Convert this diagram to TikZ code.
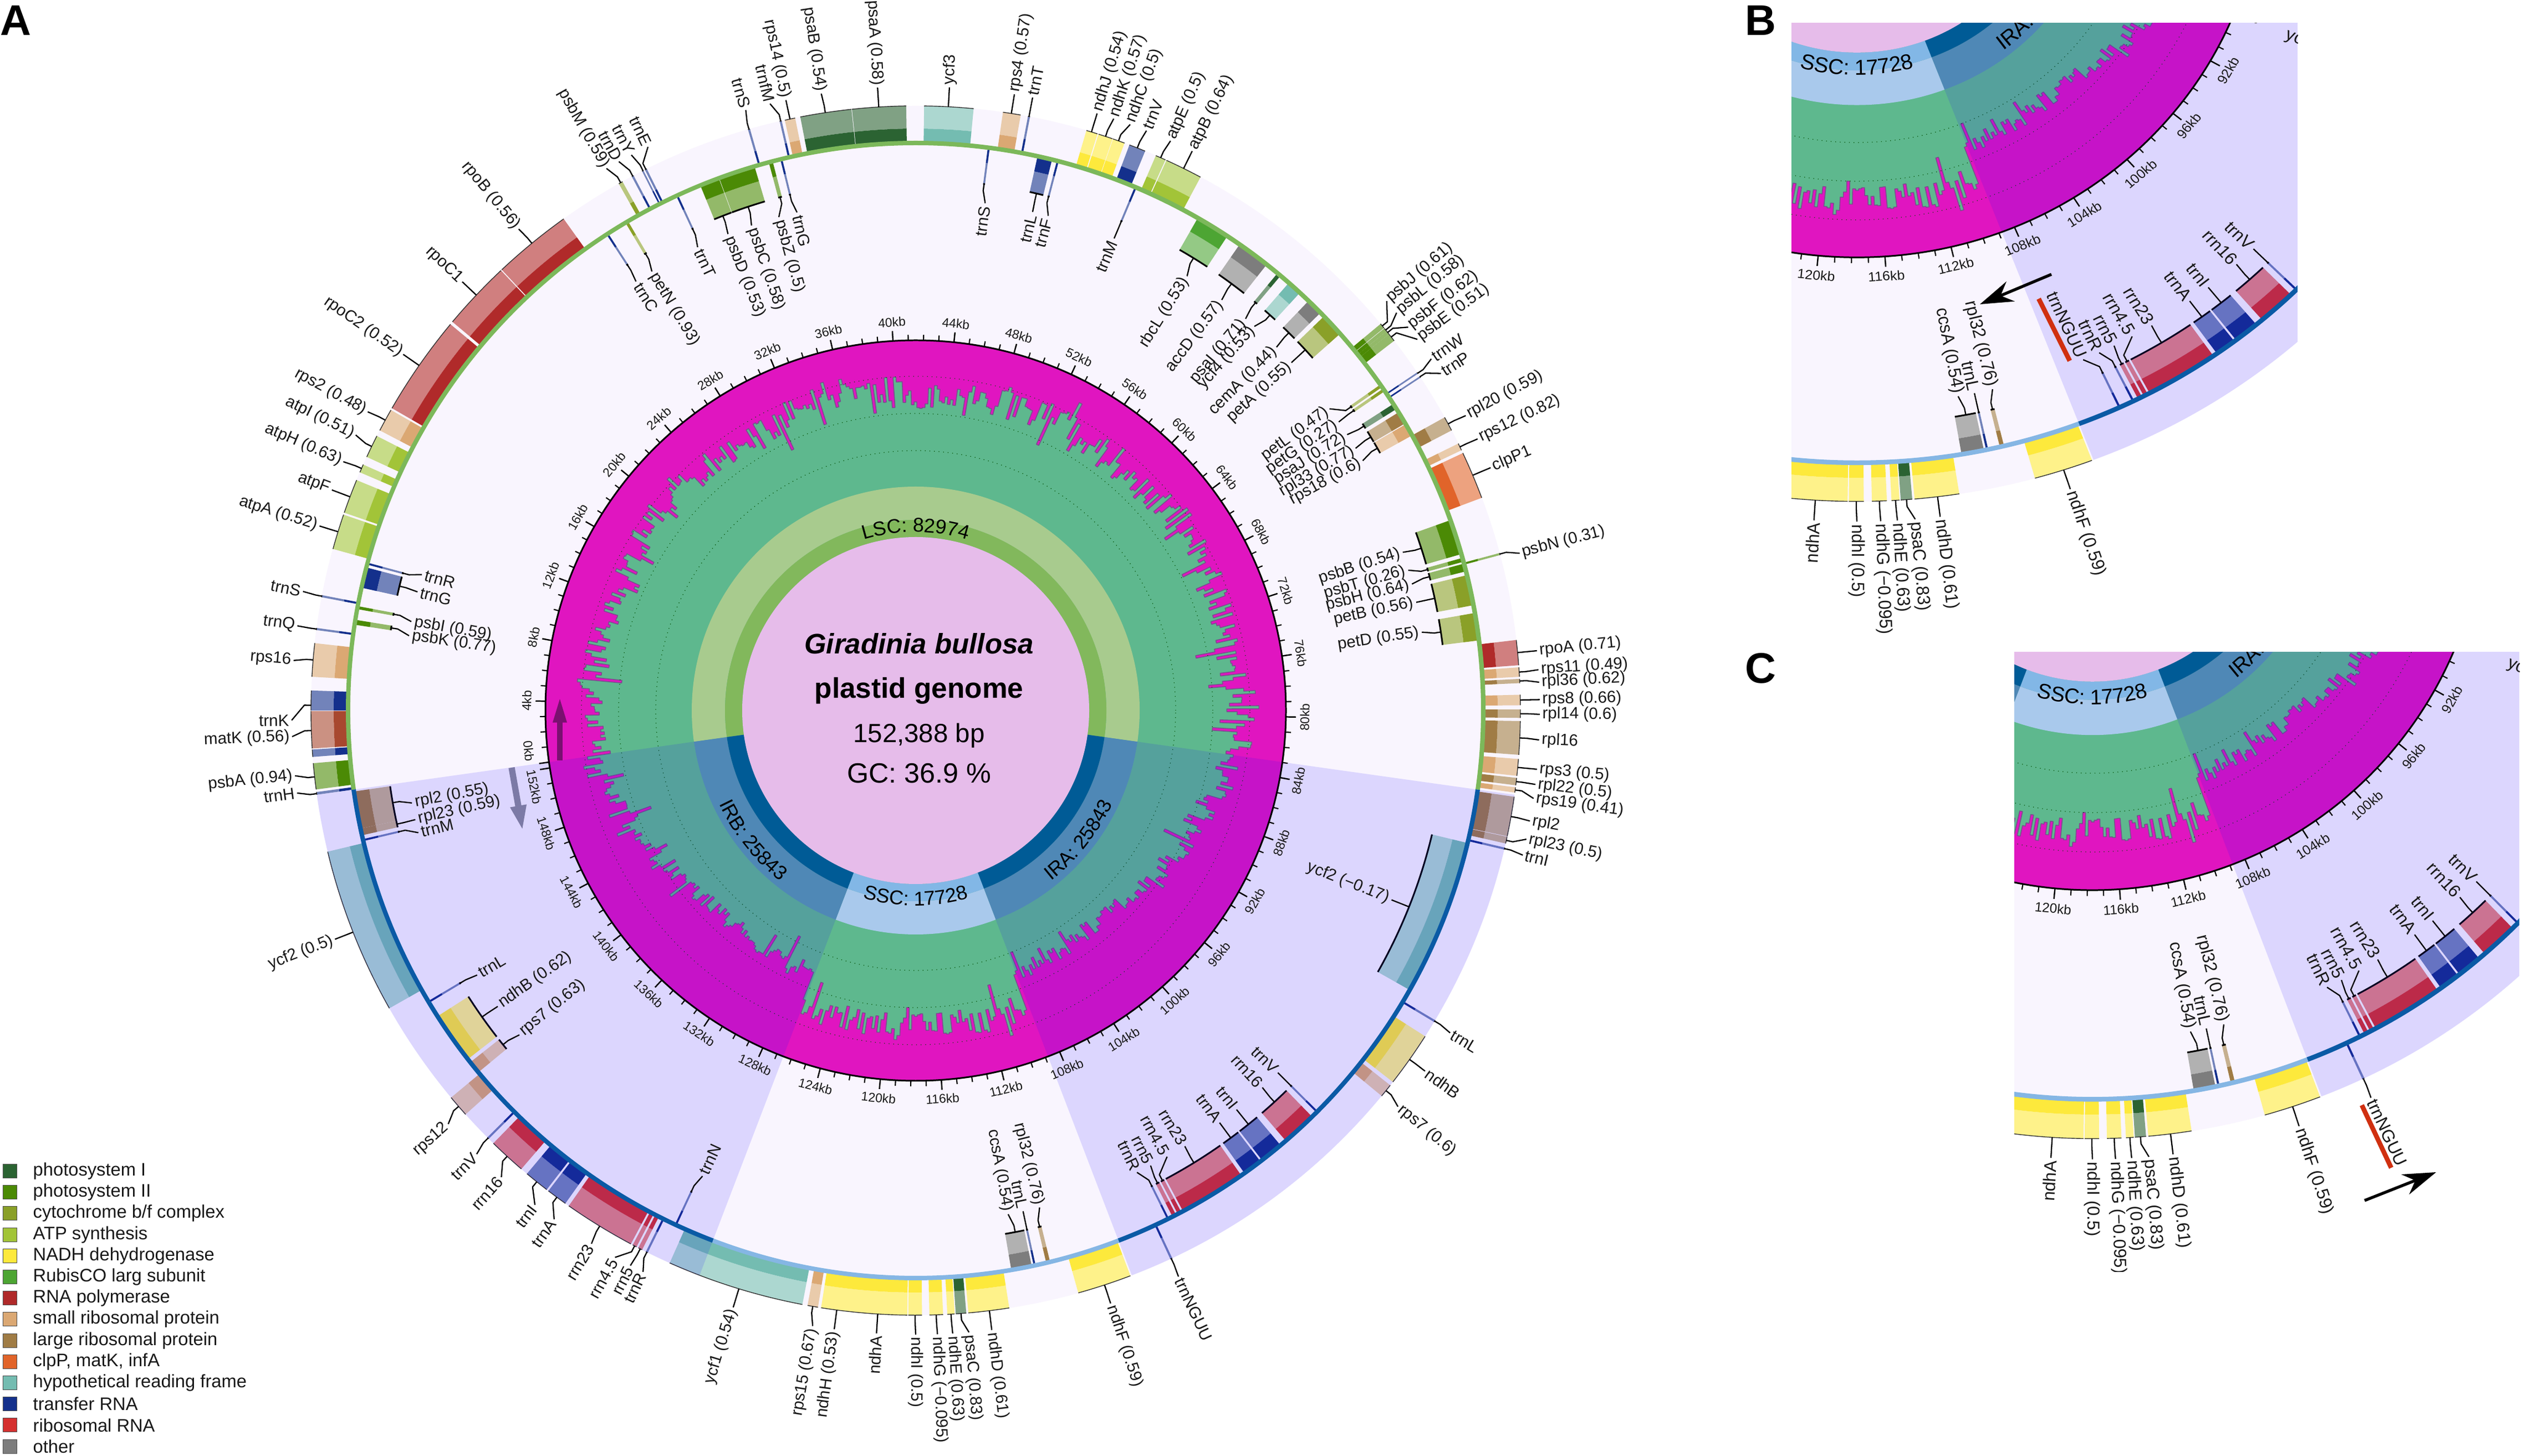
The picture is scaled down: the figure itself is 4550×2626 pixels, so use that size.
\documentclass[tikz,border=0pt]{standalone}
\usepackage{fontspec}
\setmainfont{Liberation Sans}
\usetikzlibrary{arrows.meta,decorations.text}
\def\U{0.01cm}
\def\bandfs{10.2}
\definecolor{psI}{HTML}{2B6332}\definecolor{psII}{HTML}{4B8A05}\definecolor{cyt}{HTML}{8AA028}
\definecolor{atp}{HTML}{A2C438}\definecolor{ndh}{HTML}{FDE93C}\definecolor{rbc}{HTML}{4DA533}
\definecolor{pol}{HTML}{B02A2A}\definecolor{srp}{HTML}{DBA873}\definecolor{lrp}{HTML}{A07C45}
\definecolor{clp}{HTML}{E1642A}\definecolor{hyp}{HTML}{74BCB1}\definecolor{trn}{HTML}{14308C}
\definecolor{rrn}{HTML}{D5302F}\definecolor{oth}{HTML}{7D7D7D}\definecolor{mat}{HTML}{A8482F}
\definecolor{pale}{HTML}{F9F5FE}\definecolor{mag}{HTML}{E015C0}\definecolor{gcg}{HTML}{5EB88E}
\definecolor{irov}{HTML}{1A08FF}\definecolor{histl}{HTML}{7B4F8E}
\definecolor{lscd}{HTML}{82B85C}\definecolor{lscl}{HTML}{A8CB8E}
\definecolor{ird}{HTML}{005B96}\definecolor{irl}{HTML}{4F88B6}
\definecolor{sscd}{HTML}{82B7E6}\definecolor{sscl}{HTML}{A9C9EC}
\definecolor{core}{HTML}{E6BCEA}\definecolor{bbl}{HTML}{7CB85A}\definecolor{bbi}{HTML}{0A5AA5}\definecolor{bbs}{HTML}{85B6E4}
\definecolor{redbar}{HTML}{D03010}\definecolor{arrA}{HTML}{7A1070}\definecolor{arrB}{HTML}{7C7AA6}
\tikzset{
  glab/.style={font=\fontsize{8.4}{10}\selectfont,inner sep=0pt,text=black!90},
  ticklab/.style={font=\fontsize{6.5}{8}\selectfont,inner sep=0pt,text=black!90},
  leader/.style={draw=black,line width=0.65pt,line join=round},
  rimo/.style={draw=black!80,line width=0.4pt},
  rimi/.style={draw=black,line width=0.85pt},
  legtext/.style={font=\fontsize{9.3}{11}\selectfont,inner sep=0pt,anchor=west,text=black!90},
  legbox/.style={draw=black!70,line width=0.3pt,minimum size=25*\U,inner sep=0pt},
  panelletter/.style={font=\bfseries\fontsize{22}{24}\selectfont,inner sep=0pt},
  bandtxt/.style={decorate,decoration={text along path,text align=center,text={#1}}},
}
% annular sector
\newcommand\gsec[4]{(#1:#3) arc[start angle=#1,end angle=#2,radius=#3*\U] -- (#2:#4) arc[start angle=#2,end angle=#1,radius=#4*\U] -- cycle}
% outer gene
\newcommand\gO[3]{\fill[#3!60!white] \gsec{#1}{#2}{1050}{1091};\fill[#3] \gsec{#1}{#2}{1024}{1050};\draw[rimo] (#1:1091) arc[start angle=#1,end angle=#2,radius=1091*\U];}
% inner gene
\newcommand\gI[3]{\fill[#3!60!white] \gsec{#1}{#2}{958}{996};\fill[#3] \gsec{#1}{#2}{996}{1024};\draw[rimi] (#1:958) arc[start angle=#1,end angle=#2,radius=958*\U];}
% outer label: gene angle, label angle, text
\newcommand\lO[3]{\draw[leader] (#1:1091) -- (#1:1103) -- (#2:1126);
  \pgfmathtruncatemacro\rgt{cos(#2)>=0?1:0}%
  \ifnum\rgt=1 \node[glab,anchor=west,rotate=#2] at (#2:1130) {#3};\else \node[glab,anchor=east,rotate=#2-180] at (#2:1130) {#3};\fi}
% inner label
\newcommand\lI[3]{\draw[leader] (#1:958) -- (#1:946) -- (#2:924);
  \pgfmathtruncatemacro\rgt{cos(#2)>=0?1:0}%
  \ifnum\rgt=1 \node[glab,anchor=east,rotate=#2] at (#2:919) {#3};\else \node[glab,anchor=west,rotate=#2-180] at (#2:919) {#3};\fi}
% GC histogram outline
\pgfmathsetseed{11}
\gdef\hp{(188.01:590)}
\foreach \i in {0,...,699}{%
  \pgfmathsetmacro\hkb{\i*0.2177}%
  \pgfmathsetmacro\hta{188.01-\i*0.5142857}%
  \pgfmathsetmacro\htb{\hta-0.5142857}%
  \pgfmathsetmacro\hba{\hkb<82.974 ? 580+10*sin(\hkb*23) : (\hkb<108.817 ? 585-78*min((\hkb-82.974)/15,1) : (\hkb<126.545 ? 572 : 585-78*min((152.388-\hkb)/15,1)))}%
  \pgfmathsetmacro\ham{\hkb<82.974 ? 26 : (\hkb<108.817 ? 15 : (\hkb<126.545 ? 26 : 15))}%
  \pgfmathsetmacro\hsa{rnd>0.86 ? -rnd*40 : 0}%
  \pgfmathsetmacro\hsb{rnd>0.93 ? rnd*35 : 0}%
  \pgfmathsetmacro\hr{\hba+\ham*(2*rnd-1)+\hsa+\hsb}%
  \xdef\hp{\hp -- (\hta:\hr) -- (\htb:\hr)}%
}
\newif\ifpanelB
\newcommand\genome{%
  \fill[pale] (0,0) circle[radius=1091*\U];
  \fill[mag] (0,0) circle[radius=668*\U];
  \draw[histl,fill=gcg,line width=0.45pt,line join=round] \hp -- cycle;
  \foreach \rr in {469,536,603}{\draw[black!70!green,line width=0.35pt,dotted] (0,0) circle[radius=\rr*\U];}
  % ---- outer genes
  \gO{185.0}{187.5}{psII}\gO{187.75}{188.0}{trn}\gO{183.7}{184.4}{trn}\gO{180.05}{183.6}{mat}\gO{178.1}{180}{trn}
  \gO{173.6}{176.8}{srp}\gO{172.15}{172.35}{trn}\gO{169}{169.2}{trn}
  \gO{161.1}{164.5}{atp}\gO{157.6}{160.9}{atp}\gO{156}{156.8}{atp}\gO{153}{155.2}{atp}\gO{150.2}{152.4}{srp}
  \gO{140.3}{150}{pol}\gO{133.3}{140}{pol}\gO{125.6}{133.2}{pol}
  \gO{119}{119.4}{cyt}\gO{117.8}{118}{trn}\gO{116.75}{116.9}{trn}\gO{116.4}{116.6}{trn}
  \gO{105.9}{106.1}{trn}\gO{102.8}{103}{trn}\gO{101.5}{102.5}{srp}\gO{96.1}{101}{psI}\gO{90.9}{96.05}{psI}
  \gO{84.5}{89.2}{hyp}\gO{80}{81.7}{srp}\gO{79.1}{79.3}{trn}
  \gO{72.5}{73.6}{ndh}\gO{71}{72.4}{ndh}\gO{69.8}{70.95}{ndh}\gO{67.7}{69.3}{trn}\gO{65.6}{66.6}{atp}\gO{61.9}{65.5}{atp}
  \gO{39.25}{39.75}{psII}\gO{38.85}{39.2}{psII}\gO{38.5}{38.85}{psII}\gO{37.7}{38.5}{psII}
  \gO{33.85}{34.0}{trn}\gO{33.4}{33.55}{trn}\gO{27.6}{29}{lrp}\gO{25.5}{26.2}{srp}\gO{20.6}{25.2}{clp}
  \gO{14.9}{15.1}{psII}
  \gO{4.3}{6.7}{pol}\gO{3.2}{4.1}{srp}\gO{2.6}{3.0}{lrp}\gO{0.5}{1.5}{srp}\gO{-0.7}{0.1}{lrp}\gO{-4.2}{-1}{lrp}
  \gO{-6.2}{-4.6}{srp}\gO{-7.1}{-6.4}{lrp}\gO{-7.8}{-7.3}{srp}\gO{-12}{-8.2}{lrp}\gO{-12.7}{-12.05}{lrp}\gO{-13.3}{-13.1}{trn}
  \gO{-31}{-30.8}{trn}\gO{-37.9}{-32.6}{ndh}\gO{-39.6}{-38.3}{srp}
  \ifpanelB\else\gO{-65.1}{-64.9}{trn}\fi
  \gO{-74.4}{-69.2}{ndh}\gO{-85}{-81.1}{ndh}\gO{-86.2}{-85.2}{psI}\gO{-87.0}{-86.3}{ndh}\gO{-88.7}{-87.4}{ndh}\gO{-90.7}{-89.4}{ndh}
  \gO{-99}{-90.8}{ndh}\gO{-100.3}{-99.3}{srp}\gO{-114}{-100.8}{hyp}
  \gO{-116.5}{-116.3}{trn}\gO{-117.3}{-116.9}{rrn}\gO{-117.9}{-117.5}{rrn}\gO{-125}{-118.1}{rrn}\gO{-127.4}{-125.4}{trn}\gO{-130}{-127.6}{trn}\gO{-134.3}{-130.7}{rrn}\gO{-135.1}{-134.9}{trn}
  \gO{-140.2}{-138.1}{srp}\gO{-166.5}{-150.5}{hyp}
  % ---- inner genes
  \gI{170.8}{171.3}{psII}\gI{169.4}{169.7}{psII}\gI{165.4}{167.5}{trn}\gI{164.9}{165.1}{trn}
  \gI{120.45}{120.75}{cyt}\gI{122.8}{123}{trn}\gI{114.75}{114.95}{trn}\gI{110.3}{112.3}{psII}\gI{106.5}{110.25}{psII}\gI{104.6}{105}{psII}\gI{103.6}{103.8}{trn}
  \gI{82.5}{82.7}{trn}\gI{76.1}{77.6}{trn}\gI{75.4}{75.6}{trn}\gI{67.1}{67.3}{trn}
  \gI{56.7}{60.2}{rbc}\gI{51.8}{55.2}{oth}\gI{50}{50.4}{psI}\gI{47.4}{48.9}{hyp}\gI{44.5}{46.2}{oth}\gI{41.6}{44}{cyt}
  \gI{34.75}{35.05}{cyt}\gI{34.25}{34.55}{cyt}\gI{32.1}{32.7}{psI}\gI{30.4}{31.7}{lrp}\gI{29}{30.3}{srp}
  \gI{16}{19.6}{psII}\gI{15.2}{15.6}{psII}\gI{14.2}{15}{psII}\gI{10.7}{13.8}{cyt}\gI{7.1}{9.9}{cyt}
  \gI{-29.5}{-13.5}{hyp}\gI{-45.1}{-44.9}{trn}\gI{-49.3}{-45.7}{rrn}\gI{-52.4}{-50}{trn}\gI{-54.6}{-52.6}{trn}\gI{-61.9}{-55}{rrn}
  \gI{-62.5}{-62.1}{rrn}\gI{-63.1}{-62.7}{rrn}\gI{-63.7}{-63.5}{trn}
  \ifpanelB\gI{-65.1}{-64.9}{trn}\fi
  \gI{-76.7}{-76.3}{lrp}\gI{-78}{-77.8}{trn}\gI{-80.3}{-78.2}{oth}
  \gI{-115.1}{-114.9}{trn}\gI{-147.4}{-142.1}{ndh}\gI{-141.7}{-140.4}{srp}\gI{-149.2}{-149}{trn}
  \gI{-171.8}{-168}{lrp}\gI{-168}{-167.3}{lrp}\gI{-166.9}{-166.7}{trn}
  % ---- IR overlays
  \fill[irov,opacity=0.13] \gsec{-8.01}{-69.06}{404}{1091};
  \fill[irov,opacity=0.13] \gsec{-110.94}{-171.99}{404}{1091};
  % ---- central rings
  \fill[lscl] \gsec{188.01}{-8.01}{344}{404};\fill[lscd] \gsec{188.01}{-8.01}{313}{344};
  \fill[irl] \gsec{-8.01}{-69.06}{344}{404};\fill[ird] \gsec{-8.01}{-69.06}{313}{344};
  \fill[sscl] \gsec{-69.06}{-110.94}{344}{404};\fill[sscd] \gsec{-69.06}{-110.94}{313}{344};
  \fill[irl] \gsec{-110.94}{-171.99}{344}{404};\fill[ird] \gsec{-110.94}{-171.99}{313}{344};
  \fill[core] (0,0) circle[radius=313*\U];
  % ---- backbone
  \fill[bbl] \gsec{188.01}{-8.01}{1020}{1028};
  \fill[bbi] \gsec{-8.01}{-69.06}{1020}{1028};
  \fill[bbs] \gsec{-69.06}{-110.94}{1020}{1028};
  \fill[bbi] \gsec{-110.94}{-171.99}{1020}{1028};
  % ---- ring + ticks
  \draw[black,line width=0.85pt] (0,0) circle[radius=668*\U];
  \foreach \k in {0,...,152}{%
    \pgfmathsetmacro\tk{188.01-\k*2.36239}%
    \pgfmathsetmacro\tl{\k==0 ? 186.0 : (\k==152 ? 191.3 : \tk)}%
    \pgfmathtruncatemacro\md{mod(\k,4)}%
    \ifnum\md=0
      \draw[black,line width=0.7pt] (\tk:668) -- (\tk:686);
      \pgfmathtruncatemacro\up{sin(\tl)>=0?1:0}%
      \ifnum\up=1 \node[ticklab,rotate=\tl-90] at (\tl:702) {\k kb};\else\node[ticklab,rotate=\tl+90] at (\tl:702) {\k kb};\fi
    \else
      \draw[black,line width=0.6pt] (\tk:668) -- (\tk:678);
    \fi}
  % ---- ring captions
  \path[bandtxt={|\fontsize{\bandfs}{12}\selectfont|LSC: 82974}] (115:322) arc[start angle=115,end angle=65,radius=322*\U];
  \path[bandtxt={|\fontsize{\bandfs}{12}\selectfont|SSC: 17728}] (-120:352) arc[start angle=-120,end angle=-60,radius=352*\U];
  \path[bandtxt={|\fontsize{\bandfs}{12}\selectfont|IRA: 25843}] (-70:393) arc[start angle=-70,end angle=-7,radius=393*\U];
  \path[bandtxt={|\fontsize{\bandfs}{12}\selectfont|IRB: 25843}] (-173:393) arc[start angle=-173,end angle=-110,radius=393*\U];
  % ---- centre text
  \node[inner sep=0pt,anchor=base,font=\bfseries\itshape\fontsize{14.5}{16}\selectfont] at (6,102) {Giradinia bullosa};
  \node[inner sep=0pt,anchor=base,font=\bfseries\fontsize{14.6}{16}\selectfont] at (6,22) {plastid genome};
  \node[inner sep=0pt,anchor=base,font=\fontsize{13.5}{16}\selectfont] at (6,-58) {152,388 bp};
  \node[inner sep=0pt,anchor=base,font=\fontsize{14.3}{16}\selectfont] at (6,-131) {GC: 36.9 \%};
  % ---- outer labels
  \lO{186.3}{186.0}{psbA (0.94)}\lO{187.9}{187.6}{trnH}\lO{181.9}{182.4}{matK (0.56)}\lO{179.5}{180.9}{trnK}
  \lO{175.2}{175.4}{rps16}\lO{172.25}{172.2}{trnQ}\lO{169.1}{169}{trnS}
  \lO{162.8}{162.8}{atpA (0.52)}\lO{159.3}{159.3}{atpF}\lO{156.4}{156.5}{atpH (0.63)}\lO{154.1}{153.8}{atpI (0.51)}\lO{151.3}{151.4}{rps2 (0.48)}
  \lO{145.2}{145.2}{rpoC2 (0.52)}\lO{136.6}{136.6}{rpoC1}\lO{129.4}{129.5}{rpoB (0.56)}
  \lO{119.2}{119.7}{psbM (0.59)}\lO{117.9}{118.4}{trnD}\lO{116.8}{117.1}{trnY}\lO{116.5}{115.4}{trnE}
  \lO{106}{105.8}{trnS}\lO{102.9}{103.5}{trnfM}\lO{102}{102}{rps14 (0.5)}\lO{98.6}{98.7}{psaB (0.54)}\lO{93.5}{93.5}{psaA (0.58)}
  \lO{86.9}{86.9}{ycf3}\lO{80.9}{80.9}{rps4 (0.57)}\lO{79.2}{79.2}{trnT}
  \lO{73.1}{73.1}{ndhJ (0.54)}\lO{71.7}{71.5}{ndhK (0.57)}\lO{70.4}{69.9}{ndhC (0.5)}\lO{68.5}{68.3}{trnV}\lO{66.1}{65.9}{atpE (0.5)}\lO{63.7}{63.7}{atpB (0.64)}
  \lO{39.5}{41}{psbJ (0.61)}\lO{39}{39.6}{psbL (0.58)}\lO{38.7}{37.9}{psbF (0.62)}\lO{38.15}{36.5}{psbE (0.51)}
  \lO{33.9}{34.3}{trnW}\lO{33.5}{32.7}{trnP}\lO{28.3}{28.2}{rpl20 (0.59)}\lO{25.85}{25.8}{rps12 (0.82)}\lO{22.9}{22.9}{clpP1}
  \lO{15}{14.6}{psbN (0.31)}
  \lO{5.5}{5.5}{rpoA (0.71)}\lO{3.65}{3.75}{rps11 (0.49)}\lO{2.8}{2.6}{rpl36 (0.62)}\lO{1}{1}{rps8 (0.66)}\lO{-0.3}{-0.35}{rpl14 (0.6)}\lO{-2.6}{-2.7}{rpl16}
  \lO{-5.4}{-5.4}{rps3 (0.5)}\lO{-6.75}{-6.8}{rpl22 (0.5)}\lO{-7.55}{-8.1}{rps19 (0.41)}\lO{-10.1}{-10.2}{rpl2}\lO{-12.4}{-11.9}{rpl23 (0.5)}\lO{-13.2}{-13.4}{trnI}
  \lO{-30.9}{-31.1}{trnL}\lO{-35.25}{-35.3}{ndhB}\lO{-38.95}{-39.4}{rps7 (0.6)}
  \ifpanelB\else\lO{-65}{-65.1}{trnNGUU}\fi
  \lO{-71.8}{-71.8}{ndhF (0.59)}\lO{-83}{-83}{ndhD (0.61)}\lO{-85.7}{-85.1}{psaC (0.83)}\lO{-86.65}{-86.6}{ndhE (0.63)}\lO{-88.05}{-88}{ndhG (−0.095)}\lO{-90.05}{-90}{ndhI (0.5)}
  \lO{-93.6}{-93.6}{ndhA}\lO{-97.5}{-97.5}{ndhH (0.53)}\lO{-99.8}{-99.5}{rps15 (0.67)}\lO{-107}{-107}{ycf1 (0.54)}
  \lO{-116.4}{-115.9}{trnR}\lO{-117.1}{-117.2}{rrn5}\lO{-117.7}{-118.8}{rrn4.5}\lO{-121.5}{-121.3}{rrn23}\lO{-126.4}{-125.4}{trnA}\lO{-128.8}{-127.6}{trnI}
  \lO{-132.5}{-131.6}{rrn16}\lO{-135}{-134.7}{trnV}\lO{-139.1}{-138.5}{rps12}\lO{-158.5}{-158.5}{ycf2 (0.5)}
  % ---- inner labels
  \lI{171.05}{171.6}{psbK (0.77)}\lI{169.55}{170}{psbI (0.59)}\lI{166.45}{166.6}{trnG}\lI{165}{164.6}{trnR}
  \lI{120.6}{121}{petN (0.93)}\lI{122.9}{123.1}{trnC}\lI{114.85}{115.2}{trnT}\lI{111.3}{111.5}{psbD (0.53)}\lI{108.4}{108.7}{psbC (0.58)}\lI{104.8}{105.5}{psbZ (0.5)}\lI{103.7}{103.4}{trnG}
  \lI{82.6}{82.2}{trnS}\lI{76.85}{76.8}{trnL}\lI{75.5}{75}{trnF}\lI{67.2}{67.2}{trnM}
  \lI{58.45}{58}{rbcL (0.53)}\lI{53.5}{53.3}{accD (0.57)}\lI{50.2}{49.9}{psaI (0.71)}\lI{48.15}{48.6}{ycf4 (0.53)}\lI{45.35}{45.2}{cemA (0.44)}\lI{42.8}{42.8}{petA (0.55)}
  \lI{34.9}{36.1}{petL (0.47)}\lI{34.4}{34.3}{petG (0.27)}\lI{32.4}{32.6}{psaJ (0.72)}\lI{31}{30.8}{rpl33 (0.77)}\lI{29.6}{29.2}{rps18 (0.6)}
  \lI{17.8}{18}{psbB (0.54)}\lI{15.4}{15.9}{psbT (0.26)}\lI{14.6}{14.3}{psbH (0.64)}\lI{12.2}{12.2}{petB (0.56)}\lI{8.5}{8.8}{petD (0.55)}
  \lI{-21.7}{-21.7}{ycf2 (−0.17)}\lI{-45}{-45}{trnV}\lI{-47.5}{-47.4}{rrn16}\lI{-51.2}{-51.2}{trnI}\lI{-53.6}{-53.6}{trnA}\lI{-58.4}{-58.3}{rrn23}
  \lI{-62.3}{-60.6}{rrn4.5}\lI{-62.9}{-62.7}{rrn5}\lI{-63.6}{-64.4}{trnR}
  \ifpanelB\lI{-65}{-66.2}{trnNGUU}\fi
  \lI{-76.5}{-76}{rpl32 (0.76)}\lI{-77.9}{-77.9}{trnL}\lI{-79.2}{-79.6}{ccsA (0.54)}
  \lI{-115}{-114.6}{trnN}\lI{-149.1}{-148.9}{trnL}\lI{-144.75}{-144.7}{ndhB (0.62)}\lI{-141}{-140.7}{rps7 (0.63)}
  \lI{-170}{-169.6}{rpl2 (0.55)}\lI{-167.65}{-167.7}{rpl23 (0.59)}\lI{-166.8}{-166.2}{trnM}
}
\begin{document}
\begin{tikzpicture}[x=0.01cm,y=0.01cm]
\useasboundingbox (0,0) rectangle (4550,2626);
\fill[white] (0,0) rectangle (4550,2626);
% main map
\begin{scope}[shift={(1652,1344)}]
  \panelBfalse
  \genome
\end{scope}
% strand arrows
\draw[draw=arrA,line width=2.6pt,-{Triangle[length=13pt,width=6.5pt]}] (1010,1254) -- (1010,1368);
\draw[draw=arrB,line width=3.2pt,-{Triangle[length=13pt,width=7.5pt]}] (923,1241) -- (943,1127);
% panel B
\begin{scope}
  \clip (3232,2584) rectangle (4145,1481);
  \begin{scope}[shift={(3350,2857)},xscale=1.095,yscale=1.041,every node/.append style={transform shape}]
    \panelBtrue
    \def\bandfs{11}
    \genome
  \end{scope}
\end{scope}
% panel C
\begin{scope}
  \clip (3634,1449) rectangle (4545,332);
  \begin{scope}[shift={(3775,1728)},xscale=1.06,yscale=1.06,every node/.append style={transform shape}]
    \panelBfalse
    \def\bandfs{10.8}
    \genome
  \end{scope}
\end{scope}
% panel B and C annotations
\draw[redbar,line width=2.4pt] (3678,2087) -- (3734,1975);
\draw[black,line width=1.5pt,-{Stealth[length=17pt,width=11pt]}] (3701,2131) -- (3572,2077);
\draw[redbar,line width=2.4pt] (4261,632) -- (4314,519);
\draw[black,line width=1.5pt,-{Stealth[length=17pt,width=11pt]}] (4266,460) -- (4395,511);
% panel letters
\node[panelletter] (pa) at (28,2589) {A};
\node[panelletter] (pb) at (3176,2589) {B};
\node[panelletter] (pc) at (3176,1420) {C};
% legend
\foreach \nn/\cc/\tx in {0/psI/photosystem I,1/psII/photosystem II,2/cyt/cytochrome b\slash f complex,3/atp/ATP synthesis,4/ndh/NADH dehydrogenase,5/rbc/RubisCO larg subunit,6/pol/RNA polymerase,7/srp/small ribosomal protein,8/lrp/large ribosomal protein,9/clp/{clpP, matK, infA},10/hyp/hypothetical reading frame,11/trn/transfer RNA,12/rrn/ribosomal RNA,13/oth/other}{%
  \node[legbox,fill=\cc] (lb\nn) at (18,{513-\nn*38.2}) {};
  \node[legtext] (lt\nn) at (59,{513-\nn*38.2}) {\tx};
}
\end{tikzpicture}
\end{document}
